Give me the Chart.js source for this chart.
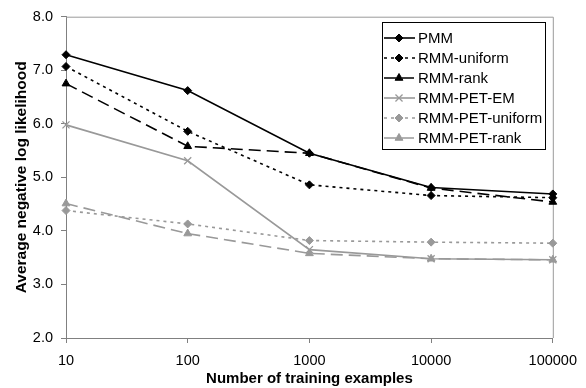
<!DOCTYPE html>
<html>
<head>
<meta charset="utf-8">
<script src="https://cdn.jsdelivr.net/npm/chart.js@4/dist/chart.umd.min.js"></script>
<style>
  html, body { margin: 0; padding: 0; background: #fff; }
  #wrap { width: 586px; height: 388px; }
</style>
</head>
<body>
<div id="wrap"><canvas id="llChart" width="586" height="388"></canvas></div>
<script>
const trainSizes = ['10', '100', '1000', '10000', '100000'];
const pmm = [7.29, 6.62, 5.45, 4.81, 4.69];
const rmmUniform = [7.07, 5.86, 4.86, 4.66, 4.62];
const rmmRank = [6.75, 5.58, 5.45, 4.80, 4.54];
const rmmPetEm = [5.98, 5.31, 3.65, 3.48, 3.46];
const rmmPetUniform = [4.38, 4.13, 3.82, 3.79, 3.77];
const rmmPetRank = [4.51, 3.95, 3.58, 3.48, 3.46];

const GRAY = '#999999';
const FONT = "'Liberation Sans', Arial, sans-serif";

function series(label, data, color, style, dash, radius) {
    return {
        label: label,
        data: data,
        borderColor: color,
        backgroundColor: color,
        borderWidth: 1.6,
        borderDash: dash,
        pointStyle: style,
        pointRadius: radius,
        pointBorderWidth: style === 'crossRot' ? 1.3 : 1,
        pointBorderColor: color,
        pointBackgroundColor: color,
        tension: 0
    };
}

// legend box drawn inside the plot like the original
const boxLegend = {
    id: 'boxLegend',
    afterDraw(chart) {
        const ctx = chart.ctx;
        const x0 = 382, y0 = 22, w = 163, h = 127;
        ctx.save();
        ctx.fillStyle = '#fff';
        ctx.fillRect(x0, y0, w, h);
        ctx.strokeStyle = '#000';
        ctx.lineWidth = 1;
        ctx.strokeRect(x0 + 0.5, y0 + 0.5, w, h);
        ctx.font = '15px ' + FONT;
        ctx.textBaseline = 'middle';
        chart.data.datasets.forEach((ds, i) => {
            const y = 38 + i * 20;
            ctx.strokeStyle = ds.borderColor;
            ctx.lineWidth = ds.borderWidth;
            ctx.setLineDash(ds.borderDash || []);
            ctx.beginPath();
            ctx.moveTo(x0 + 2, y);
            ctx.lineTo(x0 + 33, y);
            ctx.stroke();
            ctx.setLineDash([]);
            ctx.fillStyle = ds.pointBackgroundColor;
            ctx.strokeStyle = ds.pointBorderColor;
            ctx.lineWidth = ds.pointBorderWidth;
            Chart.helpers.drawPoint(ctx, {
                pointStyle: ds.pointStyle,
                radius: ds.pointRadius,
                rotation: 0,
                borderWidth: ds.pointBorderWidth
            }, x0 + 17, y);
            ctx.fillStyle = '#000';
            ctx.fillText(ds.label, x0 + 36, y + 1);
        });
        ctx.restore();
    }
};

// grey frame on top and right of the plot area
const plotFrame = {
    id: 'plotFrame',
    beforeDatasetsDraw(chart) {
        const a = chart.chartArea, ctx = chart.ctx;
        ctx.save();
        ctx.strokeStyle = '#9a9a9a';
        ctx.lineWidth = 1;
        ctx.beginPath();
        ctx.moveTo(a.left, a.top + 0.5);
        ctx.lineTo(a.right + 0.5, a.top + 0.5);
        ctx.lineTo(a.right + 0.5, a.bottom);
        ctx.stroke();
        ctx.restore();
    }
};

const ctx = document.getElementById('llChart').getContext('2d');
const chart = new Chart(ctx, {
    type: 'line',
    data: {
        labels: trainSizes,
        datasets: [
            series('PMM', pmm, '#000', 'rectRot', [], 4),
            series('RMM-uniform', rmmUniform, '#000', 'rectRot', [3, 4], 4),
            series('RMM-rank', rmmRank, '#000', 'triangle', [12, 6], 4.5),
            series('RMM-PET-EM', rmmPetEm, GRAY, 'crossRot', [], 5),
            series('RMM-PET-uniform', rmmPetUniform, GRAY, 'rectRot', [3, 4], 4),
            series('RMM-PET-rank', rmmPetRank, GRAY, 'triangle', [12, 6], 4.5)
        ]
    },
    options: {
        responsive: false,
        animation: false,
        layout: { padding: { top: 16, right: 27, left: 0, bottom: 0 } },
        plugins: {
            legend: { display: false },
            tooltip: { enabled: false }
        },
        scales: {
            x: {
                offset: false,
                grid: {
                    drawOnChartArea: false,
                    drawTicks: true,
                    tickLength: 5,
                    color: '#808080'
                },
                border: { color: '#808080', width: 1 },
                ticks: {
                    color: '#000',
                    font: { family: FONT, size: 14.5 },
                    padding: 9,
                    maxRotation: 0,
                    autoSkip: false
                },
                title: {
                    display: true,
                    text: 'Number of training examples',
                    color: '#000',
                    font: { family: FONT, size: 15, weight: 'bold' },
                    padding: { top: 0, bottom: 0 }
                },
                afterFit(scale) { scale.height = 50; }
            },
            y: {
                min: 2,
                max: 8,
                grid: {
                    drawOnChartArea: false,
                    drawTicks: true,
                    tickLength: 5,
                    color: '#808080'
                },
                border: { color: '#808080', width: 1 },
                ticks: {
                    stepSize: 1,
                    color: '#000',
                    font: { family: FONT, size: 14.5 },
                    padding: 8,
                    callback: v => v.toFixed(1)
                },
                title: {
                    display: true,
                    text: 'Average negative log likelihood',
                    color: '#000',
                    font: { family: FONT, size: 15.5, weight: 'bold' },
                    padding: { top: 12, bottom: 0 }
                },
                afterFit(scale) { scale.width = 66; }
            }
        }
    },
    plugins: [plotFrame, boxLegend]
});
</script>
</body>
</html>
